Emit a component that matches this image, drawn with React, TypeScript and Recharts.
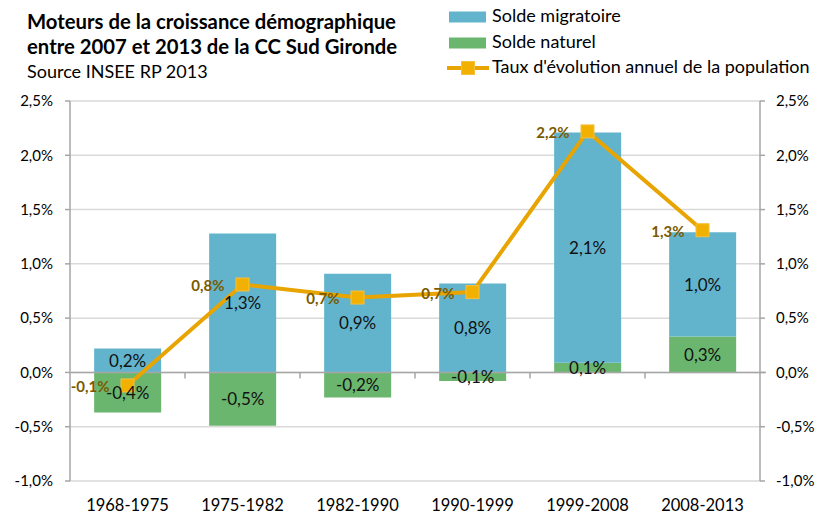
import React from "react";
import {
  ComposedChart,
  Bar,
  Line,
  XAxis,
  YAxis,
  CartesianGrid,
  LabelList,
  ReferenceLine,
} from "recharts";

// Values (percent per year)
const periods = ["1968-1975", "1975-1982", "1982-1990", "1990-1999", "1999-2008", "2008-2013"];
const soldeMigratoire = [0.22, 1.28, 0.91, 0.82, 2.12, 0.96];
const soldeNaturel = [-0.37, -0.49, -0.23, -0.08, 0.09, 0.33];
const tauxEvolution = [-0.12, 0.81, 0.69, 0.74, 2.22, 1.31];
const yTicks = [-1, -0.5, 0, 0.5, 1, 1.5, 2, 2.5];

const BLUE = "#62b4cc";
const GREEN = "#6bb66e";
const ORANGE = "#e8a400";
const MARKER = "#f2b100";
const LABEL_GOLD = "#7a5a00";
const AXIS = "#a6a6a6";
const FONT = "Lato, 'Open Sans', sans-serif";

const data = periods.map((p, i) => ({
  period: p,
  migratoire: soldeMigratoire[i],
  naturel: soldeNaturel[i],
  taux: tauxEvolution[i],
}));

const pct = (v: unknown) => `${Number(v).toFixed(1).replace(".", ",")}%`;

function SquareDot(props: any) {
  const { cx, cy } = props;
  if (cx == null || cy == null) return null;
  return <rect x={cx - 6.5} y={cy - 6.5} width={13} height={13} fill={MARKER} stroke="#f5c040" strokeWidth={1} />;
}

// zero line with the small category tick marks hanging under it
function ZeroLine(props: any) {
  const { x1, y1, x2 } = props;
  const n = periods.length;
  const step = (x2 - x1) / n;
  const marks = [];
  for (let k = 1; k < n; k++) {
    const x = x1 + step * k;
    marks.push(<line key={k} x1={x} x2={x} y1={y1} y2={y1 + 6} stroke={AXIS} strokeWidth={1.5} />);
  }
  return (
    <g>
      <line x1={x1} x2={x2 + 6} y1={y1} y2={y1} stroke={AXIS} strokeWidth={1.5} />
      {marks}
    </g>
  );
}

function TauxLabel(props: any) {
  const { x, y, value } = props;
  return (
    <text x={x - 18} y={y + 3} textAnchor="end" dominantBaseline="middle" fontFamily={FONT} fontSize={15} fontWeight={700} fill={LABEL_GOLD}>
      {pct(value)}
    </text>
  );
}

function Legend() {
  const rows = [
    { label: "Solde migratoire", kind: "bar", color: BLUE, y: 17 },
    { label: "Solde naturel", kind: "bar", color: GREEN, y: 43 },
    { label: "Taux d'évolution annuel de la population", kind: "line", color: ORANGE, y: 68 },
  ];
  return (
    <svg width={820} height={90} style={{ position: "absolute", left: 0, top: 0 }}>
      {rows.map((r) => (
        <g key={r.label}>
          {r.kind === "bar" ? (
            <rect x={449} y={r.y - 5.5} width={37} height={11} fill={r.color} />
          ) : (
            <g>
              <line x1={447} x2={489} y1={r.y} y2={r.y} stroke={ORANGE} strokeWidth={4} />
              <rect x={461.5} y={r.y - 6.5} width={13} height={13} fill={MARKER} stroke="#f5c040" />
            </g>
          )}
          <text x={492} y={r.y} dominantBaseline="middle" fontFamily={FONT} fontSize={18} fill="#000">
            {r.label}
          </text>
        </g>
      ))}
    </svg>
  );
}

export default function App() {
  return (
    <div style={{ position: "absolute", left: 0, top: 0, width: 820, height: 515, background: "#fff", fontFamily: FONT }}>
      <div style={{ position: "absolute", left: 27, top: 9, lineHeight: "25px", color: "#000" }}>
        <div style={{ fontSize: 20.3, fontWeight: 700 }}>Moteurs de la croissance démographique</div>
        <div style={{ fontSize: 20.3, fontWeight: 700 }}>entre 2007 et 2013 de la CC Sud Gironde</div>
        <div style={{ fontSize: 18 }}>Source INSEE RP 2013</div>
      </div>
      <Legend />
      <div style={{ position: "absolute", left: 0, top: 0 }}>
        <ComposedChart
          width={820}
          height={515}
          data={data}
          stackOffset="sign"
          barCategoryGap="21%"
          margin={{ top: 101, right: 0, bottom: 0, left: 0 }}
        >
          <CartesianGrid vertical={false} stroke="#d9d9d9" strokeWidth={1.5} yAxisId="left" />
          <XAxis
            dataKey="period"
            axisLine={false}
            tickLine={false}
            tickSize={0}
            tickMargin={18}
            height={34}
            interval={0}
            tick={{ fontSize: 16.5, fill: "#000", fontFamily: FONT }}
          />
          <YAxis
            yAxisId="left"
            orientation="left"
            width={70}
            domain={[-1, 2.5]}
            ticks={yTicks}
            interval={0}
            tickFormatter={pct}
            axisLine={{ stroke: AXIS, strokeWidth: 1.5 }}
            tickLine={{ stroke: AXIS, strokeWidth: 1.5 }}
            tickSize={5}
            tickMargin={12}
            tick={{ fontSize: 15, fill: "#000", fontFamily: FONT }}
          />
          <YAxis
            yAxisId="right"
            orientation="right"
            width={60}
            domain={[-1, 2.5]}
            ticks={yTicks}
            interval={0}
            tickFormatter={pct}
            axisLine={{ stroke: AXIS, strokeWidth: 1.5 }}
            tickLine={{ stroke: AXIS, strokeWidth: 1.5 }}
            tickSize={5}
            tickMargin={11}
            tick={{ fontSize: 15, fill: "#000", fontFamily: FONT }}
          />
          <Bar dataKey="naturel" yAxisId="left" stackId="s" fill={GREEN} isAnimationActive={false}>
            <LabelList dataKey="naturel" position="center" formatter={pct} fontSize={17} fill="#111" fontFamily={FONT} />
          </Bar>
          <Bar dataKey="migratoire" yAxisId="left" stackId="s" fill={BLUE} isAnimationActive={false}>
            <LabelList dataKey="migratoire" position="center" formatter={pct} fontSize={17} fill="#111" fontFamily={FONT} />
          </Bar>
          <ReferenceLine y={0} yAxisId="left" shape={<ZeroLine />} />
          <Line
            dataKey="taux"
            yAxisId="right"
            type="linear"
            stroke={ORANGE}
            strokeWidth={4}
            dot={<SquareDot />}
            activeDot={false}
            isAnimationActive={false}
          >
            <LabelList dataKey="taux" content={<TauxLabel />} />
          </Line>
        </ComposedChart>
      </div>
    </div>
  );
}
